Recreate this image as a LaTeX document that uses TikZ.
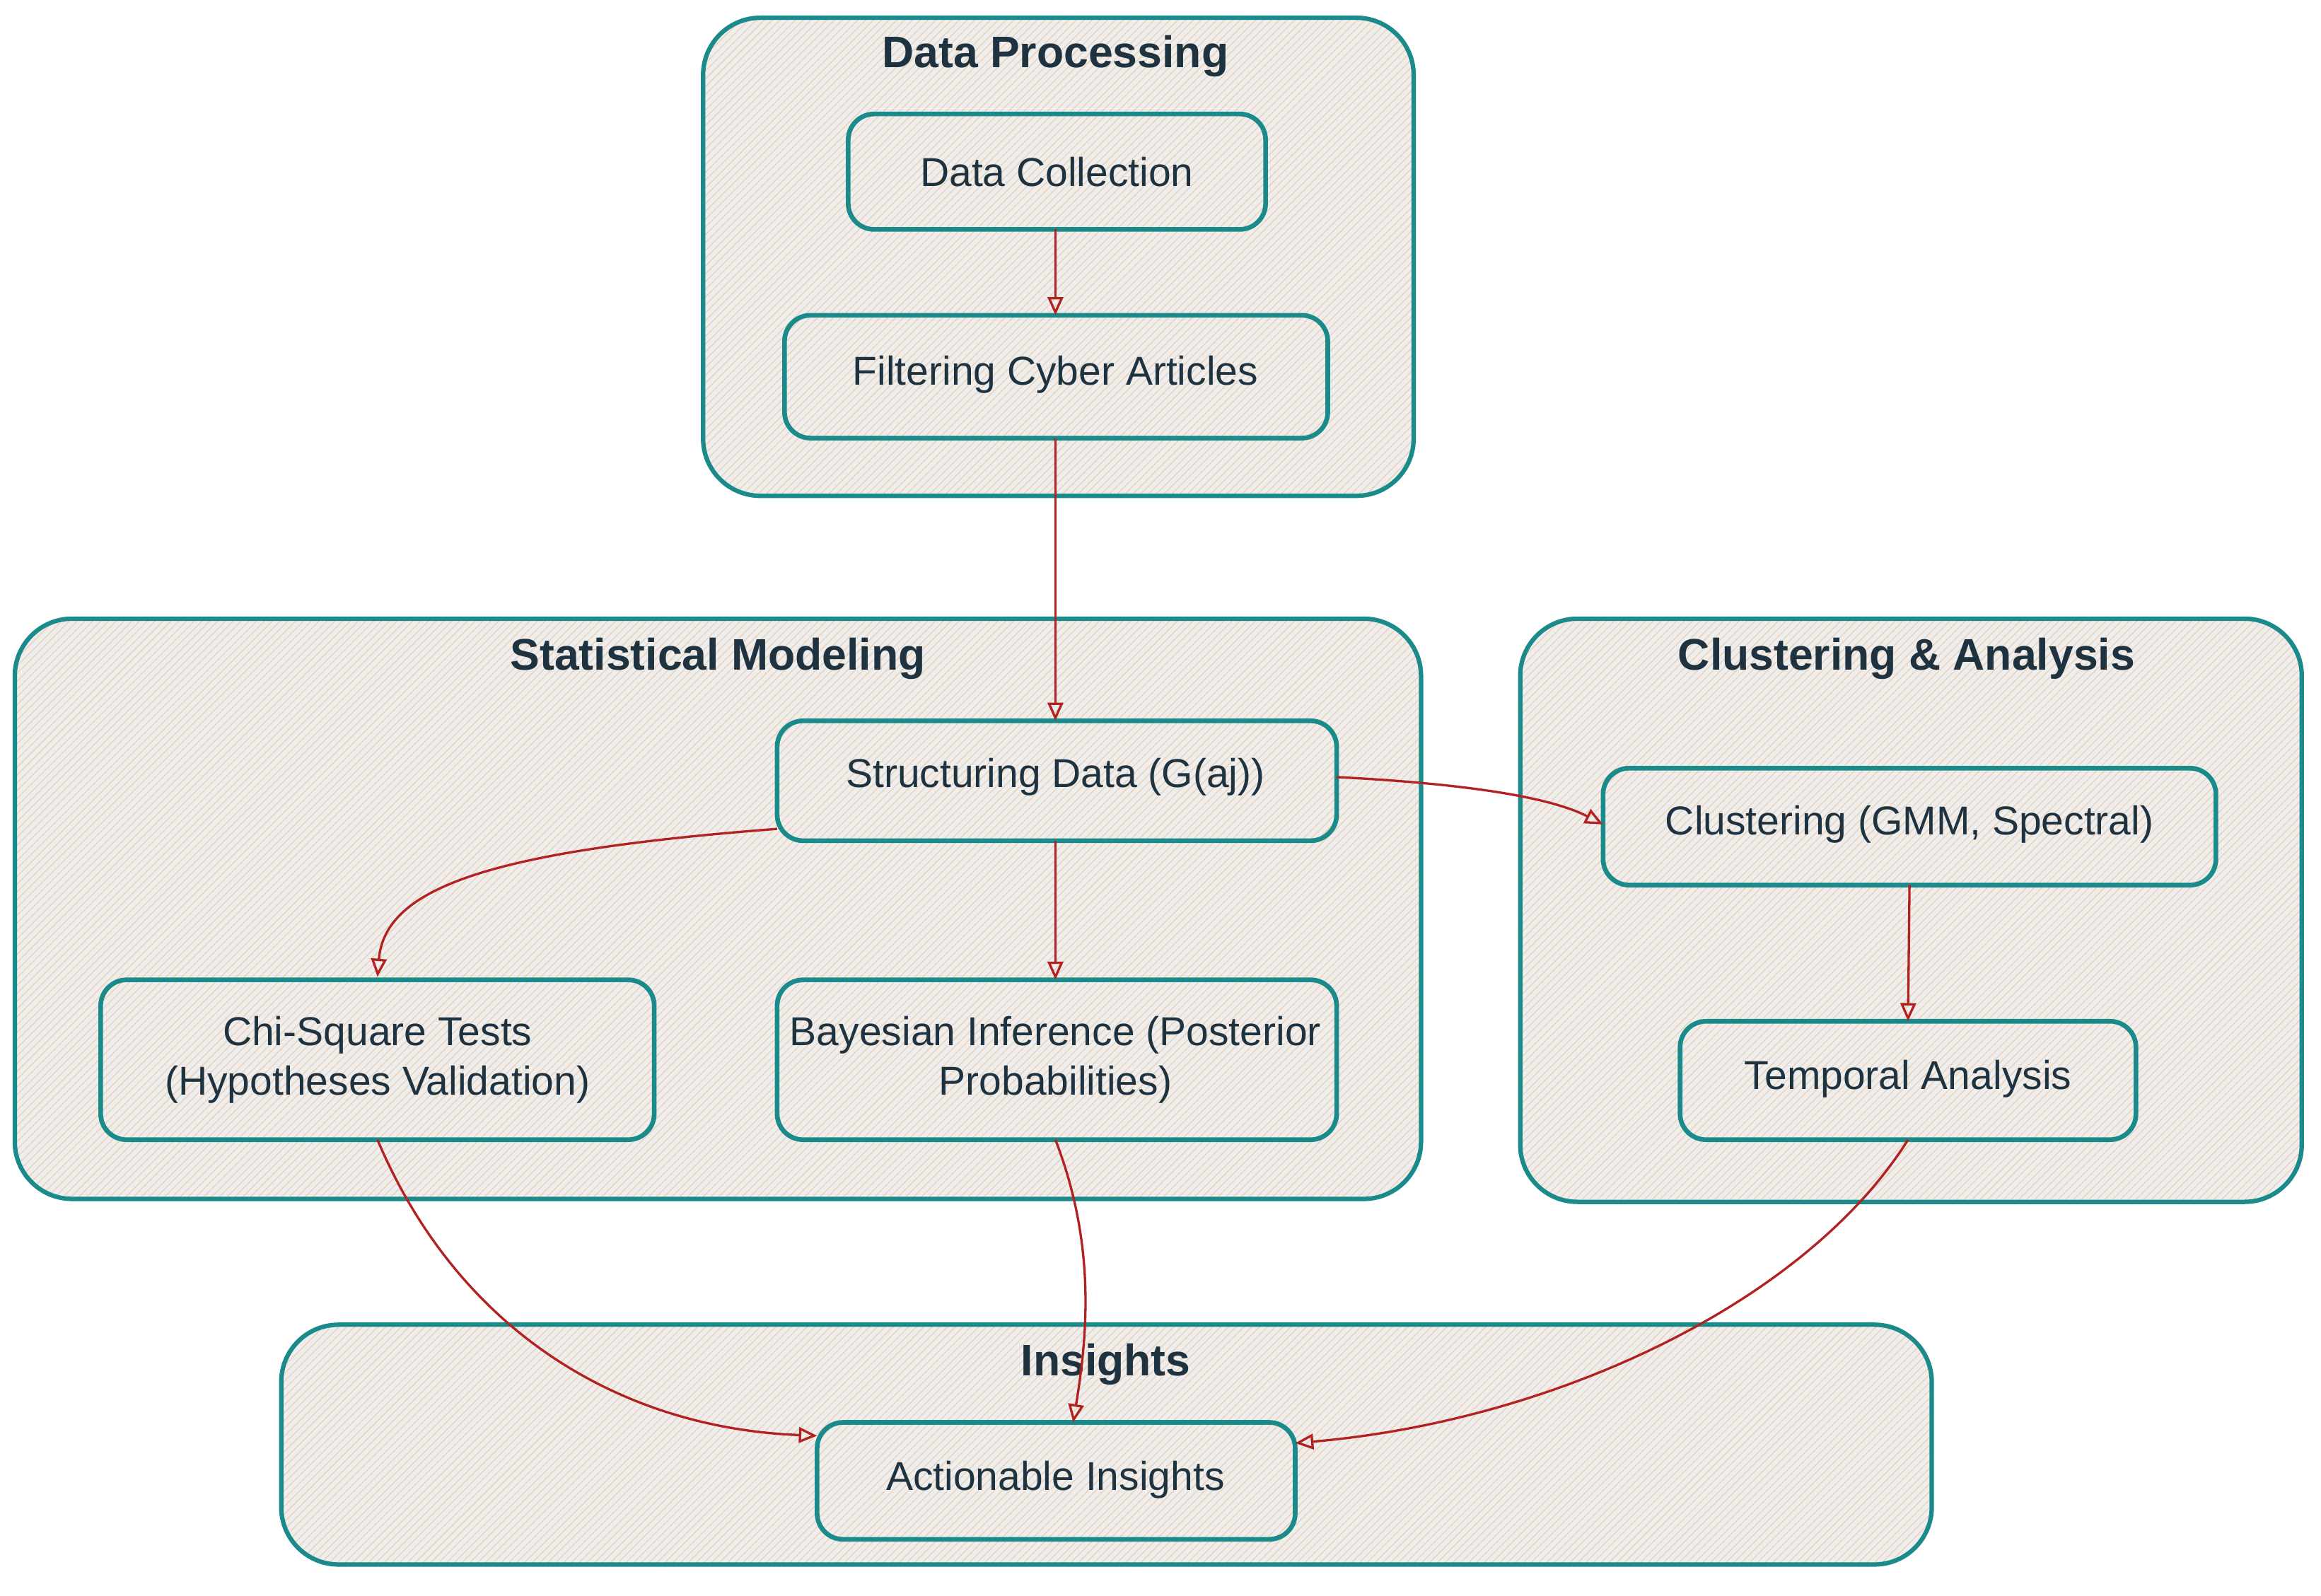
\documentclass[tikz,border=0pt]{standalone}
\usepackage{fontspec}
\setmainfont{Liberation Sans}
\usetikzlibrary{arrows.meta,patterns}
\definecolor{teal1}{HTML}{1A8A8A}
\definecolor{txt}{HTML}{1E3240}
\definecolor{fillc}{HTML}{EEEEF0}
\definecolor{hatch}{HTML}{EBD5B5}
\definecolor{edge}{HTML}{B22222}
\begin{document}
\begin{tikzpicture}[x=0.02cm,y=-0.02cm,
  box/.style={draw=none,rounded corners=10pt,fill=fillc,
    postaction={pattern=north east lines,pattern color=hatch},
    postaction={draw=teal1,line width=1.8pt}},
  grp/.style={draw=none,rounded corners=22pt,fill=fillc,
    postaction={pattern=north east lines,pattern color=hatch},
    postaction={draw=teal1,line width=1.7pt}},
  lbl/.style={text=txt,font=\fontsize{15.5}{19}\selectfont,align=center},
  ttl/.style={text=txt,font=\bfseries\fontsize{17}{20}\selectfont},
  arr/.style={draw=edge,line width=0.9pt,-{Triangle[open,length=7pt,width=6pt]}}]
\useasboundingbox (0,0) rectangle (1568,1078);
% groups
\path[grp] (475,12) rectangle (955,335);
\path[grp] (10,418) rectangle (960,810);
\path[grp] (1027,418) rectangle (1555,812);
\path[grp] (190,895) rectangle (1305,1057);
\node[ttl] (t1) at (713,38) {Data Processing};
\node[ttl] (t2) at (485,445) {Statistical Modeling};
\node[ttl] (t3) at (1288,445) {Clustering \& Analysis};
\node[ttl] (t4) at (747,922) {Insights};
% nodes
\path[box] (573,77) rectangle (855,155);
\node[lbl] (dc) at (714,116) {Data Collection};
\coordinate (dcb) at (713,155);
\path[box] (530,213) rectangle (897,296);
\node[lbl] (fc) at (713,253) {Filtering Cyber Articles};
\coordinate (fct) at (713,213); \coordinate (fcb) at (713,296);
\path[box] (525,487) rectangle (903,568);
\node[lbl] (sd) at (713,525) {Structuring Data (G(aj))};
\coordinate (sdt) at (713,487); \coordinate (sdb) at (713,568);
\coordinate (sdr) at (903,525); \coordinate (sdl) at (525,560);
\path[box] (68,662) rectangle (442,770);
\node[lbl] (chi) at (255,716) {Chi-Square Tests\\(Hypotheses Validation)};
\coordinate (chit) at (255,660); \coordinate (chib) at (255,770);
\path[box] (525,662) rectangle (903,770);
\node[lbl] (bay) at (713,716) {Bayesian Inference (Posterior\\Probabilities)};
\coordinate (bayt) at (713,662); \coordinate (bayb) at (713,770);
\path[box] (1083,519) rectangle (1497,598);
\node[lbl] (cl) at (1290,557) {Clustering (GMM, Spectral)};
\coordinate (cll) at (1083,557); \coordinate (clb) at (1290,598);
\path[box] (1135,690) rectangle (1443,770);
\node[lbl] (ta) at (1289,729) {Temporal Analysis};
\coordinate (tat) at (1289,690); \coordinate (tab) at (1289,770);
\path[box] (552,961) rectangle (875,1040);
\node[lbl] (ai) at (713,1000) {Actionable Insights};
\coordinate (ail) at (552,970); \coordinate (ait) at (725,961); \coordinate (air) at (875,975);
% edges
\draw[arr] (dcb) -- (fct);
\draw[arr] (fcb) -- (sdt);
\draw[arr] (sdr) .. controls (1000,530) and (1050,540) .. (cll);
\draw[arr] (sdl) .. controls (330,575) and (260,600) .. (chit);
\draw[arr] (sdb) -- (bayt);
\draw[arr] (clb) -- (tat);
\draw[arr] (chib) .. controls (310,900) and (420,965) .. (ail);
\draw[arr] (bayb) .. controls (740,840) and (735,900) .. (ait);
\draw[arr] (tab) .. controls (1220,880) and (1050,960) .. (air);
\end{tikzpicture}
\end{document}
